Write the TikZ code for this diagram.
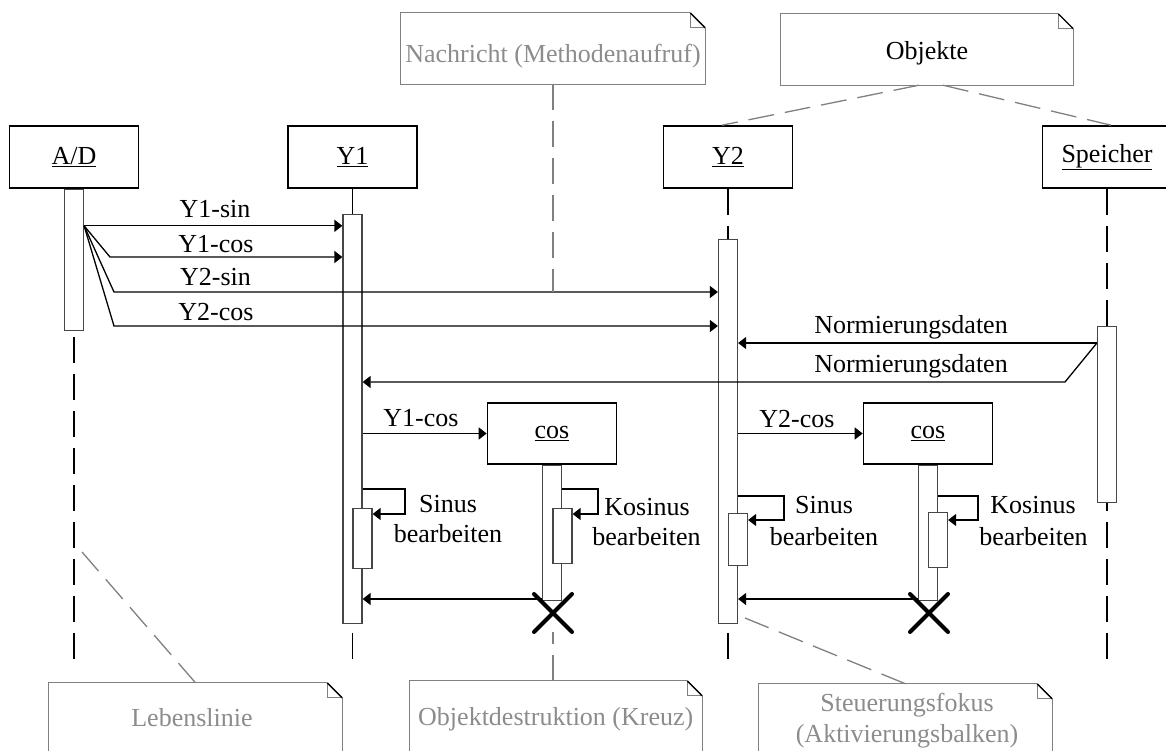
\documentclass[tikz,border=0pt]{standalone}
\usepackage{fontspec}
\setmainfont{Liberation Serif}
\usetikzlibrary{arrows.meta,shapes.misc}

\definecolor{notegray}{RGB}{128,128,128}
\definecolor{notetext}{RGB}{140,140,140}
\definecolor{bargray}{RGB}{70,70,70}

\tikzset{
  txt/.style={font=\fontsize{26}{30}\selectfont, inner sep=0pt},
  objbox/.style={draw, line width=1.6pt, minimum width=129pt, minimum height=62pt,
    inner sep=0pt, font=\fontsize{26}{30}\selectfont},
  actbar/.style={draw=bargray, fill=white, line width=1.2pt, minimum width=19pt,
    inner sep=0pt, anchor=north},
  lifeline/.style={line width=1.3pt, dash pattern=on 26pt off 11pt},
  msg/.style={line width=1.3pt, -{Triangle[length=8pt,width=12pt]}},
  kill/.style={cross out, draw, line width=4pt, minimum size=34pt, inner sep=0pt,
    line cap=round},
  noteframe/.style={minimum width=293pt, minimum height=71pt, inner sep=0pt},
  noteline/.style={draw=notegray, line width=1.3pt},
  notelink/.style={notegray, line width=1.3pt, dash pattern=on 26pt off 11pt},
  notetxt/.style={txt, text=notetext, anchor=base},
  lbl/.style={txt, anchor=base},
}

% outline of a UML note with a folded corner
\newcommand\drawnote[1]{%
  \draw[noteline] ([xshift=-15pt]#1.north east) -- (#1.north west) -- (#1.south west)
    -- (#1.south east) -- ([yshift=-15pt]#1.north east);
  \draw[noteline] ([xshift=-15pt]#1.north east) |- ([yshift=-15pt]#1.north east);
  \draw[line width=1.3pt] ([xshift=-15pt]#1.north east) -- ([yshift=-15pt]#1.north east);
}

\begin{document}
\begin{tikzpicture}[x=1pt, y=-1pt]
\useasboundingbox (0,0) rectangle (1166,751);
\clip (0,0) rectangle (1166,751);

% ---- objects
\node[objbox] (ad) at (74,157) {\underline{A/D}};
\node[objbox] (y1) at (352.5,157) {\underline{Y1}};
\node[objbox] (y2) at (728,157) {\underline{Y2}};
\node[objbox] (sp) at (1107,157) {\underline{Speicher}};

% ---- lifelines
\coordinate (adend) at (74,662);
\coordinate (y1end) at (352.5,662);
\coordinate (y2end) at (728,662);
\coordinate (spend) at (1107,662);
\draw[lifeline] (ad.south) -- (adend);
\draw[lifeline] (y1.south) -- (y1end);
\draw[lifeline] (y2.south) -- (y2end);
\draw[lifeline] (sp.south) -- (spend);

% ---- created objects
\node[objbox, minimum height=61pt] (c1) at (552,433.5) {\underline{cos}};
\node[objbox, minimum height=61pt] (c2) at (928,433.5) {\underline{cos}};

% ---- activation bars
\node[actbar, minimum height=141pt] (adbar) at (ad.south) {};
\node[actbar, minimum height=409pt] (y1bar) at (352.5,214) {};
\node[actbar, minimum height=384pt] (y2bar) at (728,239) {};
\node[actbar, minimum height=176pt] (spbar) at (1107,326) {};
\node[actbar, minimum height=135pt] (c1bar) at (c1.south) {};
\node[actbar, minimum height=135pt] (c2bar) at (c2.south) {};
\node[actbar, minimum height=60pt] (y1sub) at (362.5,508) {};
\node[actbar, minimum height=55pt] (c1sub) at (562.5,508) {};
\node[actbar, minimum height=52pt] (y2sub) at (738,513) {};
\node[actbar, minimum height=55pt] (c2sub) at (938,512) {};

% ---- messages from A/D
\coordinate (adout) at ([yshift=-37pt]adbar.north east);
\coordinate (k2) at (110,257);
\coordinate (k3) at (114,292);
\coordinate (k4) at (114,326);
\draw[msg] (adout) -- (y1bar.west |- adout);
\draw[msg] (adout) -- (k2) -- (y1bar.west |- k2);
\draw[msg] (adout) -- (k3) -- (y2bar.west |- k3);
\draw[msg] (adout) -- (k4) -- (y2bar.west |- k4);
\node[lbl] (m1) at (215,218) {Y1-sin};
\node[lbl] (m2) at (216,252) {Y1-cos};
\node[lbl] (m3) at (215.5,285) {Y2-sin};
\node[lbl] (m4) at (216,320) {Y2-cos};

% ---- messages from Speicher
\coordinate (spout) at ([yshift=-17pt]spbar.north west);
\coordinate (k5) at (1065,382);
\draw[msg] (spout) -- (y2bar.east |- spout);
\draw[msg] (spout) -- (k5) -- (y1bar.east |- k5);
\node[lbl] (m5) at (911,333) {Normierungsdaten};
\node[lbl] (m6) at (911,372) {Normierungsdaten};

% ---- creation of the cos objects
\draw[msg] (y1bar.east |- c1.west) -- (c1.west);
\draw[msg] (y2bar.east |- c2.west) -- (c2.west);
\node[lbl] (m7) at (421,426) {Y1-cos};
\node[lbl] (m8) at (797,427) {Y2-cos};

% ---- self calls
\coordinate (q1a) at (405,489); \coordinate (q1b) at (405,514);
\coordinate (q2a) at (598,489); \coordinate (q2b) at (598,514);
\coordinate (q3a) at (784,496); \coordinate (q3b) at (784,520);
\coordinate (q4a) at (978,496); \coordinate (q4b) at (978,520);
\draw[msg] (y1bar.east |- q1a) -- (q1a) -- (q1b) -- (y1sub.east |- q1b);
\draw[msg] (c1bar.east |- q2a) -- (q2a) -- (q2b) -- (c1sub.east |- q2b);
\draw[msg] (y2bar.east |- q3a) -- (q3a) -- (q3b) -- (y2sub.east |- q3b);
\draw[msg] (c2bar.east |- q4a) -- (q4a) -- (q4b) -- (c2sub.east |- q4b);
\node[lbl] (s1a) at (448,512) {Sinus};
\node[lbl] (s1b) at (448,542) {bearbeiten};
\node[lbl] (s2a) at (647,515) {Kosinus};
\node[lbl] (s2b) at (646.5,545) {bearbeiten};
\node[lbl] (s3a) at (824,513) {Sinus};
\node[lbl] (s3b) at (824,545) {bearbeiten};
\node[lbl] (s4a) at (1033,513) {Kosinus};
\node[lbl] (s4b) at (1033.5,545) {bearbeiten};

% ---- returns and destruction
\coordinate (r1) at ([yshift=2pt]c1bar.south west);
\coordinate (r2) at ([yshift=2pt]c2bar.south west);
\draw[msg] (r1) -- (y1bar.east |- r1);
\draw[msg] (r2) -- (y2bar.east |- r2);
\node[kill] (x1) at (553,613) {};
\node[kill] (x2) at (929,613) {};

% ---- notes
\node[noteframe, minimum width=304pt] (nNach) at (553,48.5) {};
\node[noteframe, minimum width=292pt] (nObj) at (927,49.5) {};
\node[noteframe] (nLeb) at (195.5,718.5) {};
\node[noteframe, minimum width=292.5pt] (nDes) at (555.75,716.5) {};
\node[noteframe] (nFok) at (905.5,719.5) {};
\drawnote{nNach}
\drawnote{nObj}
\drawnote{nLeb}
\drawnote{nDes}
\drawnote{nFok}
\node[notetxt] (tNach) at (553,63) {Nachricht (Methodenaufruf)};
\node[lbl] (tObj) at (927,59.5) {Objekte};
\node[notetxt] (tLeb) at (192,726) {Lebenslinie};
\node[notetxt] (tDes) at (555.75,725) {Objektdestruktion (Kreuz)};
\node[notetxt] (tFok1) at (907,711) {Steuerungsfokus};
\node[notetxt] (tFok2) at (907,742) {(Aktivierungsbalken)};

% ---- note links
\coordinate (lebEnd) at (82,552);
\coordinate (fokEnd) at (745,618);
\draw[notelink] (nNach.south) -- (nNach.south |- k3);
\draw[notelink] ([xshift=-8pt]nObj.south) -- ([xshift=-6pt]y2.north);
\draw[notelink] ([xshift=16pt]nObj.south) -- ([xshift=4pt]sp.north);
\draw[notelink] (nLeb.north) -- (lebEnd);
\draw[notelink] (x1.south |- nDes.north) -- (x1.south);
\draw[notelink] (nFok.north) -- (fokEnd);
\end{tikzpicture}
\end{document}
